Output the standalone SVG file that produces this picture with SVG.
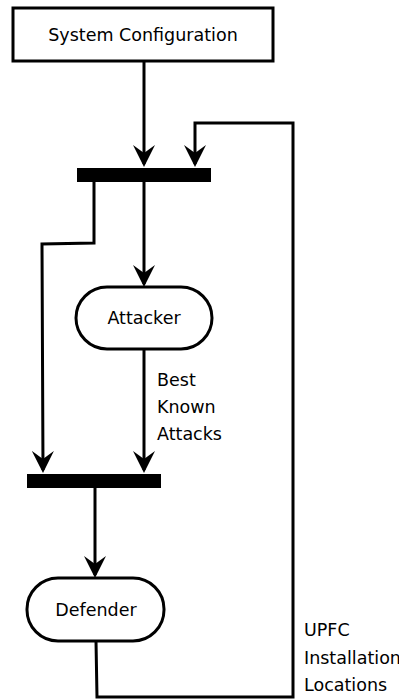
<svg xmlns="http://www.w3.org/2000/svg" width="399" height="700" viewBox="0 0 399 700">
  <style>
    .node { fill: #ffffff; stroke: #000000; stroke-width: 3; }
    .bar { fill: #000000; }
    .edge { fill: none; stroke: #000000; stroke-width: 3; stroke-linejoin: miter; }
    .label { font-family: "DejaVu Sans", "Liberation Sans", sans-serif; font-size: 17.5px; fill: #000000; }
    .mid { text-anchor: middle; }
  </style>
  <defs>
    <marker id="arrow" viewBox="-22 -11 22 22" markerWidth="22" markerHeight="22" refX="-3" refY="0" orient="auto" markerUnits="userSpaceOnUse">
      <path d="M0,0 L-22,-11 L-14,0 L-22,11 Z" fill="#000000"/>
    </marker>
  </defs>

  <rect width="399" height="700" fill="#ffffff"/>

  <g id="connectors">
    <path class="edge" d="M144,62 L144,164" marker-end="url(#arrow)"/>
    <path class="edge" d="M144,182 L144,284" marker-end="url(#arrow)"/>
    <path class="edge" d="M94,182 L94,243 L42,244 L43,470" marker-end="url(#arrow)"/>
    <path class="edge" d="M144,349 L144,470" marker-end="url(#arrow)"/>
    <path class="edge" d="M95,488 L95,575" marker-end="url(#arrow)"/>
    <path class="edge" d="M96,641 L97,697 L293,697 L293,123 L195,123 L195,164" marker-end="url(#arrow)"/>
  </g>

  <g id="system-configuration">
    <rect class="node" x="13" y="8" width="260" height="53"/>
    <text class="label mid" x="143" y="41">System Configuration</text>
  </g>

  <g id="fork-top">
    <rect class="bar" x="77" y="168" width="134" height="14"/>
  </g>

  <g id="attacker">
    <rect class="node" x="76" y="287" width="136" height="62" rx="31" ry="31"/>
    <text class="label mid" x="144" y="324">Attacker</text>
  </g>

  <g id="label-best-known-attacks">
    <text class="label" x="157" y="386">Best</text>
    <text class="label" x="157" y="413">Known</text>
    <text class="label" x="157" y="440">Attacks</text>
  </g>

  <g id="join-bottom">
    <rect class="bar" x="27" y="474" width="134" height="14"/>
  </g>

  <g id="defender">
    <rect class="node" x="27" y="578" width="137" height="63" rx="31" ry="31"/>
    <text class="label mid" x="96" y="616">Defender</text>
  </g>

  <g id="label-upfc">
    <text class="label" x="304" y="636">UPFC</text>
    <text class="label" x="304" y="664">Installation</text>
    <text class="label" x="304" y="691">Locations</text>
  </g>
</svg>
